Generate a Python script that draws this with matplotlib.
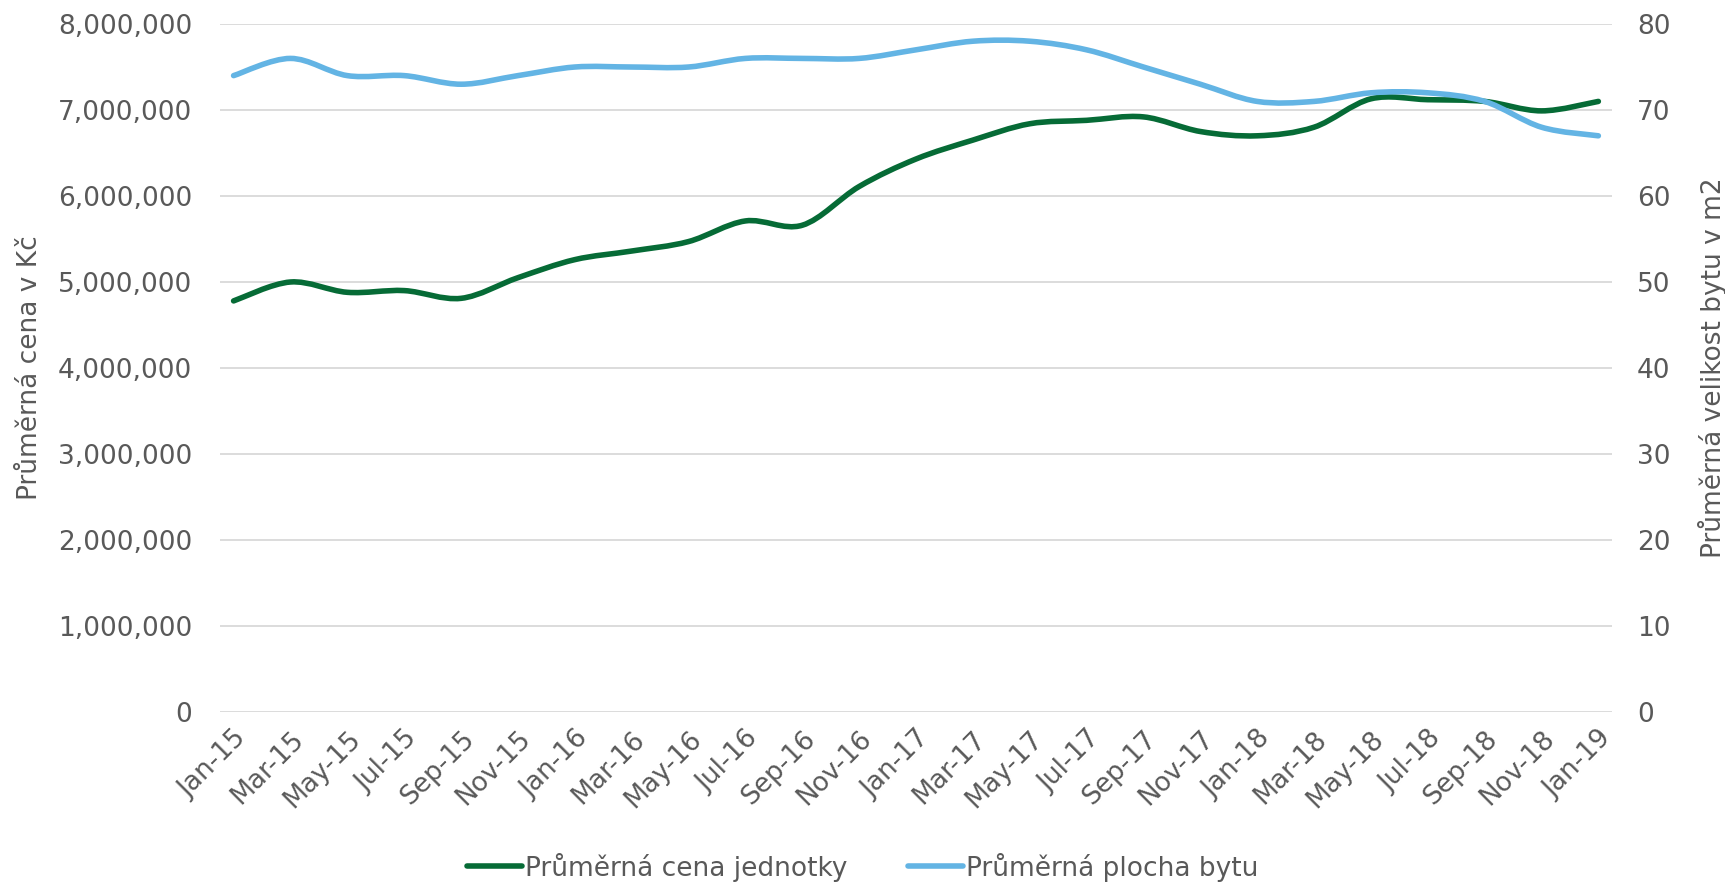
#!/usr/bin/env python3
"""Average unit price vs. average flat size, Jan-15 .. Jan-19 (bimonthly)."""

import numpy as np
import matplotlib
matplotlib.use("Agg")
import matplotlib.pyplot as plt
from matplotlib.path import Path
from matplotlib.patches import PathPatch
from matplotlib.lines import Line2D
from matplotlib.ticker import FuncFormatter

# Data
MONTHS = ["Jan-15", "Mar-15", "May-15", "Jul-15", "Sep-15", "Nov-15",
          "Jan-16", "Mar-16", "May-16", "Jul-16", "Sep-16", "Nov-16",
          "Jan-17", "Mar-17", "May-17", "Jul-17", "Sep-17", "Nov-17",
          "Jan-18", "Mar-18", "May-18", "Jul-18", "Sep-18", "Nov-18", "Jan-19"]
PRICE = [4.78e6, 5.00e6, 4.88e6, 4.90e6, 4.81e6, 5.05e6,
         5.26e6, 5.36e6, 5.47e6, 5.71e6, 5.66e6, 6.11e6,
         6.43e6, 6.65e6, 6.84e6, 6.88e6, 6.92e6, 6.75e6,
         6.70e6, 6.80e6, 7.13e6, 7.12e6, 7.10e6, 6.99e6, 7.10e6]
AREA = [74, 76, 74, 74, 73, 74,
        75, 75, 75, 76, 76, 76,
        77, 78, 78, 77, 75, 73,
        71, 71, 72, 72, 71, 68, 67]

GREEN = '#066b36'
BLUE = '#63b4e4'
TEXT = '#595959'
GRID = '#d9d9d9'
FS = 19


def smooth_path(xs, ys):
    """Excel-style smoothed line: Catmull-Rom segments as cubic Beziers."""
    pts = np.column_stack([xs, ys]).astype(float)
    n = len(pts)
    verts = [pts[0]]
    codes = [Path.MOVETO]
    for i in range(n - 1):
        p0 = pts[i - 1] if i > 0 else pts[i]
        p1, p2 = pts[i], pts[i + 1]
        p3 = pts[i + 2] if i + 2 < n else pts[i + 1]
        c1 = p1 + (p2 - p0) / 6.0
        c2 = p2 - (p3 - p1) / 6.0
        verts += [c1, c2, p2]
        codes += [Path.CURVE4] * 3
    return Path(verts, codes)


fig = plt.figure(figsize=(17.25, 8.83), dpi=100)
ax = fig.add_axes([0.1275, 0.1937, 0.807, 0.7791])
ax2 = ax.twinx()

x = np.arange(len(MONTHS))

ax.add_patch(PathPatch(smooth_path(x, PRICE), facecolor='none', edgecolor=GREEN,
                       linewidth=4, capstyle='round', joinstyle='round', zorder=3))
ax2.add_patch(PathPatch(smooth_path(x, AREA), facecolor='none', edgecolor=BLUE,
                        linewidth=4, capstyle='round', joinstyle='round', zorder=3))

ax.set_xlim(-0.24, len(MONTHS) - 1 + 0.24)
ax.set_ylim(0, 8e6)
ax2.set_ylim(0, 80)
ax.set_yticks(np.arange(0, 8e6 + 1, 1e6))
ax2.set_yticks(np.arange(0, 81, 10))
ax.yaxis.set_major_formatter(FuncFormatter(lambda v, p: f'{v:,.0f}'))

ax.set_xticks(x)
ax.set_xticklabels(MONTHS, rotation=45, ha='right', rotation_mode='anchor')

ax.grid(axis='y', color=GRID, linewidth=1.3)
ax.set_axisbelow(True)
for a in (ax, ax2):
    for s in a.spines.values():
        s.set_visible(False)
    a.tick_params(length=0, labelsize=FS, labelcolor=TEXT)
ax.tick_params(axis='y', pad=20)
ax.tick_params(axis='x', pad=10)
ax2.tick_params(axis='y', pad=18)

ax.set_ylabel('Průměrná cena v Kč', fontsize=FS, color=TEXT, labelpad=11)
ax2.set_ylabel('Průměrná velikost bytu v m2', fontsize=FS, color=TEXT, labelpad=20)

handles = [Line2D([], [], color=GREEN, linewidth=4, solid_capstyle='round'),
           Line2D([], [], color=BLUE, linewidth=4, solid_capstyle='round')]
fig.legend(handles, ['Průměrná cena jednotky', 'Průměrná plocha bytu'],
           loc='center', bbox_to_anchor=(0.5, 0.018), ncol=2, frameon=False,
           fontsize=FS, labelcolor=TEXT, handlelength=2.1, handletextpad=0.1,
           columnspacing=2.3)

plt.savefig('out.png', dpi=100)
